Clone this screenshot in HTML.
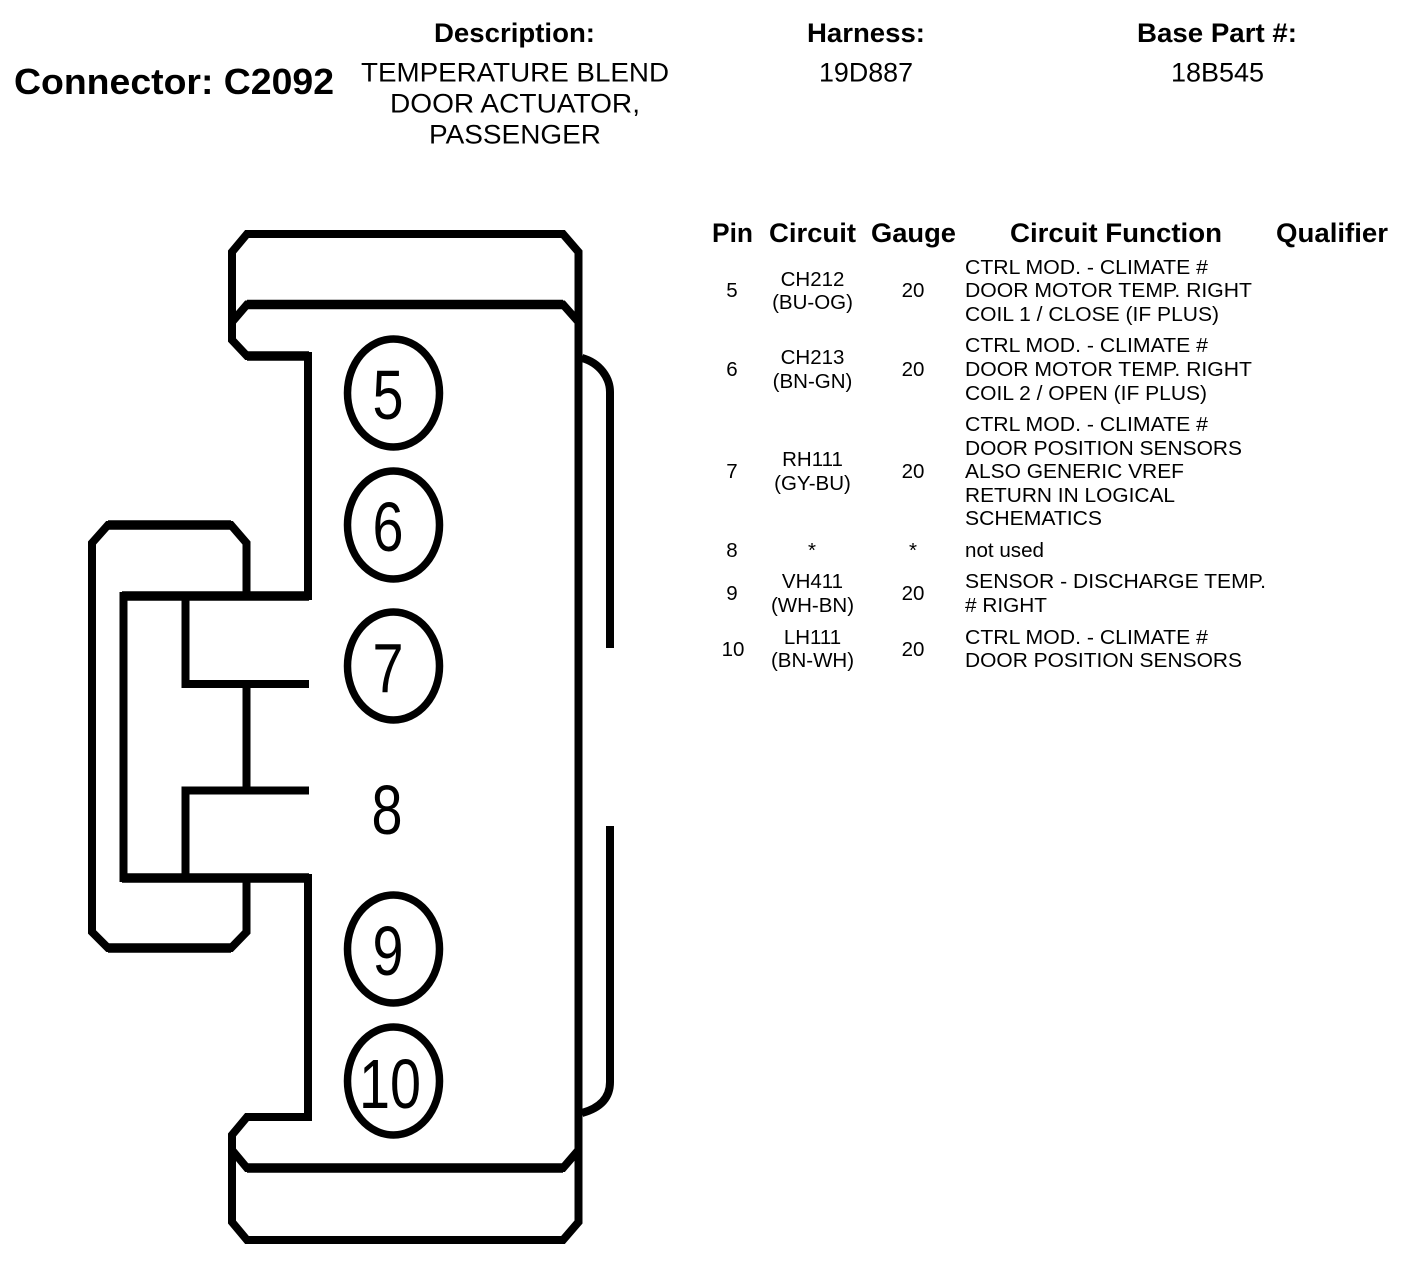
<!DOCTYPE html>
<html>
<head>
<meta charset="utf-8">
<style>
html,body{margin:0;padding:0;background:#fff}
svg{display:block}
text{font-family:"Liberation Sans",Arial,sans-serif;fill:#000}
.b{font-weight:bold;font-size:27px}
.h{font-size:27px}
.s{font-size:20.5px}
.n{font-size:70px}
</style>
</head>
<body>
<svg width="1408" height="1272" viewBox="0 0 1408 1272" xmlns="http://www.w3.org/2000/svg">
<rect width="1408" height="1272" fill="#fff"/>
<g fill="none" stroke="#000" stroke-width="8" stroke-linejoin="miter">
<path d="M247 234H563L578.5 252V1222L563 1240H247L232 1222V1135L247 1117H308V878H123.500V596H308V356H247L232 340V252Z"/>
<path d="M232 322L247 304.500H563L578.500 322"/>
<path d="M232 1150L247 1168H563L578.500 1150"/>
<path d="M246.500 596V543L231 525H108L92 543V932L108 948H231L246.500 932V878"/>
<path d="M185.500 596V684H309M246.500 684V790.500M309 790.500H185.500V878"/>
<path d="M308 356H247M308 878V1117"/>
<path d="M582 358C600 363 610 378 610 392V648"/>
<path d="M610 826V1082C610 1098 600 1108 582 1113"/>
</g>
<g fill="none" stroke="#000" stroke-width="9.500">
<path d="M122 596H309M122 878H309M247 304.500H563M247 1168H563M108 948H231M108 525H231M247 356H309"/>
</g>
<g fill="#fff" stroke="#000" stroke-width="7.500">
<ellipse cx="393.500" cy="393" rx="46" ry="54"/>
<ellipse cx="393.500" cy="525" rx="46" ry="54"/>
<ellipse cx="393.500" cy="666" rx="46" ry="54"/>
<ellipse cx="393.500" cy="949" rx="46" ry="54"/>
<ellipse cx="393.500" cy="1081" rx="46" ry="54"/>
</g>
<g class="n" text-anchor="middle">
<text class="n" x="388" y="419" textLength="31" lengthAdjust="spacingAndGlyphs">5</text>
<text class="n" x="388" y="551" textLength="31" lengthAdjust="spacingAndGlyphs">6</text>
<text class="n" x="388" y="692" textLength="31" lengthAdjust="spacingAndGlyphs">7</text>
<text class="n" x="387" y="834" textLength="31" lengthAdjust="spacingAndGlyphs">8</text>
<text class="n" x="388" y="975" textLength="31" lengthAdjust="spacingAndGlyphs">9</text>
<text class="n" x="390" y="1108" textLength="62" lengthAdjust="spacingAndGlyphs">10</text>
</g>

<text x="14" y="94" font-size="36" font-weight="bold" textLength="320" lengthAdjust="spacingAndGlyphs">Connector: C2092</text>
<text class="b" x="434" y="42" textLength="161" lengthAdjust="spacingAndGlyphs">Description:</text>
<text class="b" x="807" y="42" textLength="118" lengthAdjust="spacingAndGlyphs">Harness:</text>
<text class="b" x="1137" y="42" textLength="160" lengthAdjust="spacingAndGlyphs">Base Part #:</text>
<text class="h" x="361" y="81.500" textLength="308" lengthAdjust="spacingAndGlyphs">TEMPERATURE BLEND</text>
<text class="h" x="390" y="112.500" textLength="250" lengthAdjust="spacingAndGlyphs">DOOR ACTUATOR,</text>
<text class="h" x="429" y="143.500" textLength="172" lengthAdjust="spacingAndGlyphs">PASSENGER</text>
<text class="h" x="819" y="81.500" textLength="94" lengthAdjust="spacingAndGlyphs">19D887</text>
<text class="h" x="1171" y="81.500" textLength="93" lengthAdjust="spacingAndGlyphs">18B545</text>

<text class="b" x="712" y="242" textLength="41" lengthAdjust="spacingAndGlyphs">Pin</text>
<text class="b" x="769" y="242" textLength="87" lengthAdjust="spacingAndGlyphs">Circuit</text>
<text class="b" x="871" y="242" textLength="85" lengthAdjust="spacingAndGlyphs">Gauge</text>
<text class="b" x="1010" y="242" textLength="212" lengthAdjust="spacingAndGlyphs">Circuit Function</text>
<text class="b" x="1276" y="242" textLength="112" lengthAdjust="spacingAndGlyphs">Qualifier</text>

<g class="s" text-anchor="middle">
<text class="s" x="732" y="297">5</text>
<text class="s" x="732" y="376">6</text>
<text class="s" x="732" y="478">7</text>
<text class="s" x="732" y="557">8</text>
<text class="s" x="732" y="600">9</text>
<text class="s" x="733" y="656">10</text>
<text class="s" x="812.500" y="286">CH212</text>
<text class="s" x="812.500" y="309">(BU-OG)</text>
<text class="s" x="812.500" y="364">CH213</text>
<text class="s" x="812.500" y="388">(BN-GN)</text>
<text class="s" x="812.500" y="466">RH111</text>
<text class="s" x="812.500" y="490">(GY-BU)</text>
<text class="s" x="812" y="557">*</text>
<text class="s" x="812.500" y="588">VH411</text>
<text class="s" x="812.500" y="612">(WH-BN)</text>
<text class="s" x="812.500" y="644">LH111</text>
<text class="s" x="812.500" y="667">(BN-WH)</text>
<text class="s" x="913" y="297">20</text>
<text class="s" x="913" y="376">20</text>
<text class="s" x="913" y="478">20</text>
<text class="s" x="913" y="557">*</text>
<text class="s" x="913" y="600">20</text>
<text class="s" x="913" y="656">20</text>
</g>

<text class="s" x="965" y="274" textLength="243" lengthAdjust="spacingAndGlyphs">CTRL MOD. - CLIMATE #</text>
<text class="s" x="965" y="297" textLength="287" lengthAdjust="spacingAndGlyphs">DOOR MOTOR TEMP. RIGHT</text>
<text class="s" x="965" y="321" textLength="254" lengthAdjust="spacingAndGlyphs">COIL 1 / CLOSE (IF PLUS)</text>
<text class="s" x="965" y="352" textLength="243" lengthAdjust="spacingAndGlyphs">CTRL MOD. - CLIMATE #</text>
<text class="s" x="965" y="376" textLength="287" lengthAdjust="spacingAndGlyphs">DOOR MOTOR TEMP. RIGHT</text>
<text class="s" x="965" y="400" textLength="242" lengthAdjust="spacingAndGlyphs">COIL 2 / OPEN (IF PLUS)</text>
<text class="s" x="965" y="431" textLength="243" lengthAdjust="spacingAndGlyphs">CTRL MOD. - CLIMATE #</text>
<text class="s" x="965" y="455" textLength="277" lengthAdjust="spacingAndGlyphs">DOOR POSITION SENSORS</text>
<text class="s" x="965" y="478" textLength="219" lengthAdjust="spacingAndGlyphs">ALSO GENERIC VREF</text>
<text class="s" x="965" y="502" textLength="210" lengthAdjust="spacingAndGlyphs">RETURN IN LOGICAL</text>
<text class="s" x="965" y="525" textLength="137" lengthAdjust="spacingAndGlyphs">SCHEMATICS</text>
<text class="s" x="965" y="557" textLength="79" lengthAdjust="spacingAndGlyphs">not used</text>
<text class="s" x="965" y="588" textLength="301" lengthAdjust="spacingAndGlyphs">SENSOR - DISCHARGE TEMP.</text>
<text class="s" x="965" y="612" textLength="82" lengthAdjust="spacingAndGlyphs"># RIGHT</text>
<text class="s" x="965" y="644" textLength="243" lengthAdjust="spacingAndGlyphs">CTRL MOD. - CLIMATE #</text>
<text class="s" x="965" y="667" textLength="277" lengthAdjust="spacingAndGlyphs">DOOR POSITION SENSORS</text>
</svg>
</body>
</html>
